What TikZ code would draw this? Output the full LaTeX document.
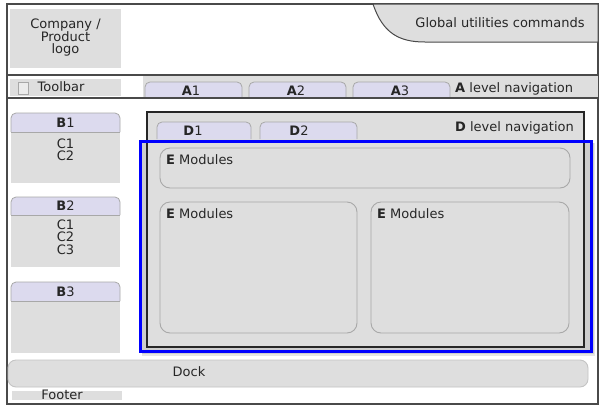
\documentclass[tikz,border=0pt]{standalone}
\usepackage{fontspec}
\setmainfont{DejaVu Sans}
\definecolor{panel}{HTML}{DEDEDE}
\definecolor{lav}{HTML}{DCDAEE}
\definecolor{framec}{HTML}{4A4A4A}
\definecolor{edgec}{HTML}{A8A8A8}
\definecolor{dockedge}{HTML}{C4C4C4}
\begin{document}
\begin{tikzpicture}[x=1pt,y=-1pt,
  txt/.style={inner sep=0pt, font=\fontsize{13}{12.3}\selectfont, text=black!85},
  tabbox/.style={fill=lav, draw=edgec, line width=0.8pt, rounded corners=5pt},
  modbox/.style={fill=panel, draw=edgec, line width=0.9pt, rounded corners=10pt},
  hline/.style={draw=framec, line width=1.1pt}]
\useasboundingbox (0,0) rectangle (604,410);
% outer frame
\draw[framec, line width=1.3pt, fill=white] (7,4) rectangle (598,404);
% logo
\fill[panel] (10,9) rectangle (121,68);
\node[txt, align=center] (logo) at (65.5,37.5) {Company /\\Product\\logo};
% global utilities
\filldraw[fill=panel, draw=framec, line width=1pt] (373,4) .. controls (383,34) and (400,42) .. (425,42) -- (598,42) -- (598,4) -- cycle;
\node[txt] (glob) at (500,23) {Global utilities commands};
% toolbar band
\fill[panel] (143,76) rectangle (598,97);
\fill[panel] (10,79) rectangle (121,96);
\draw[edgec, fill=panel!60!white, line width=0.7pt] (18,82) rectangle (28,94);
\node[txt] (toolbar) at (61,87) {Toolbar};
\draw[hline] (7,75) -- (598,75);
\draw[hline] (7,98) -- (598,98);
% A tabs
\filldraw[tabbox] (145,98) -- (145,82) -- (242,82) -- (242,98);
\filldraw[tabbox] (249,98) -- (249,82) -- (346,82) -- (346,98);
\filldraw[tabbox] (353,98) -- (353,82) -- (450,82) -- (450,98);
\draw[hline] (143,98) -- (598,98);
\node[txt] (a1) at (191,90.5) {\textbf{A}1};
\node[txt] (a2) at (296,90.5) {\textbf{A}2};
\node[txt] (a3) at (400,90.5) {\textbf{A}3};
\node[txt, anchor=west] (anav) at (455,89) {\textbf{A} level navigation};
% B panels
\fill[panel] (11,132) rectangle (120,183);
\filldraw[tabbox] (11,132) -- (11,113) -- (120,113) -- (120,132);
\draw[edgec, line width=0.8pt] (11,132) -- (120,132);
\node[txt] (b1) at (65.5,122.5) {\textbf{B}1};
\node[txt, align=center] (c1) at (65.5,149.5) {C1\\C2};
\fill[panel] (11,215) rectangle (120,267);
\filldraw[tabbox] (11,215) -- (11,197) -- (120,197) -- (120,215);
\draw[edgec, line width=0.8pt] (11,215) -- (120,215);
\node[txt] (b2) at (65.5,206) {\textbf{B}2};
\node[txt, align=center] (c2) at (65.5,237) {C1\\C2\\C3};
\fill[panel] (11,301) rectangle (120,353);
\filldraw[tabbox] (11,301) -- (11,282) -- (120,282) -- (120,301);
\draw[edgec, line width=0.8pt] (11,301) -- (120,301);
\node[txt] (b3) at (65.5,291.5) {\textbf{B}3};
% shadow of the highlighted area
\fill[black, opacity=0.10] (142,143) rectangle (595,356);
\fill[black, opacity=0.10] (142,143) rectangle (594,354);
% D frame
\filldraw[fill=panel, draw=black!85, line width=1.2pt] (147,112) rectangle (584,347);
\filldraw[tabbox] (157,139) -- (157,122) -- (251,122) -- (251,139);
\filldraw[tabbox] (260,139) -- (260,122) -- (357,122) -- (357,139);
\node[txt] (d1) at (193,130.5) {\textbf{D}1};
\node[txt] (d2) at (299,130.5) {\textbf{D}2};
\node[txt, anchor=west] (dnav) at (455,128) {\textbf{D} level navigation};
% E modules
\draw[modbox] (160,148) rectangle (570,188);
\node[txt, anchor=west] (e1) at (166,160) {\textbf{E} Modules};
\draw[modbox] (160,202) rectangle (357,333);
\node[txt, anchor=west] (e2) at (166,214) {\textbf{E} Modules};
\draw[modbox] (371,202) rectangle (569,333);
\node[txt, anchor=west] (e3) at (377,214) {\textbf{E} Modules};
% highlight
\draw[blue, line width=3pt] (140,141) rectangle (591,351);
% dock and footer
\filldraw[fill=panel, draw=dockedge, line width=0.9pt, rounded corners=8pt] (8,360) rectangle (588,387);
\node[txt] (dock) at (189,372) {Dock};
\fill[panel] (12,391) rectangle (122,400);
\node[txt] (footer) at (62,395) {Footer};
\end{tikzpicture}
\end{document}
